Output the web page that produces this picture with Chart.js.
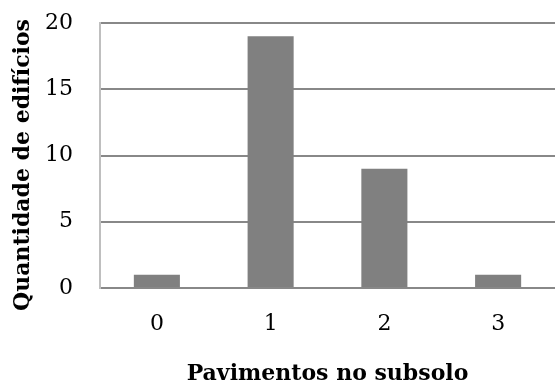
<!DOCTYPE html>
<html>
<head>
<meta charset="utf-8">
<script src="https://cdn.jsdelivr.net/npm/chart.js@4"></script>
<style>
  html, body { margin: 0; padding: 0; background: #fff; }
  #box { width: 555px; height: 387px; }
</style>
</head>
<body>
<div id="box"><canvas id="grafico" width="555" height="387"></canvas></div>
<script>
// dados
const pavimentos = ['0', '1', '2', '3'];
const edificios = [1, 19, 9, 1];
const ticksY = [0, 5, 10, 15, 20];
const tituloY = 'Quantidade de edifícios';
const tituloX = 'Pavimentos no subsolo';

// título do eixo Y centrado na altura do gráfico (como no Excel)
const tituloEixoY = {
    id: 'tituloEixoY',
    afterDraw(chart) {
        const c = chart.ctx;
        c.save();
        c.translate(23, 165);
        c.rotate(-Math.PI / 2);
        c.font = 'bold 22px "DejaVu Serif"';
        c.fillStyle = '#000';
        c.textAlign = 'center';
        c.textBaseline = 'middle';
        c.fillText(tituloY, 0, 0);
        c.restore();
    }
};

const ctx = document.getElementById('grafico').getContext('2d');
const grafico = new Chart(ctx, {
    type: 'bar',
    data: {
        labels: pavimentos,
        datasets: [{
            label: 'Edifícios',
            data: edificios,
            backgroundColor: '#808080',
            borderWidth: 0,
            barPercentage: 0.405,
            categoryPercentage: 1
        }]
    },
    options: {
        responsive: false,
        animation: false,
        layout: { padding: { top: 23, right: 0, left: 0, bottom: 0 } },
        plugins: {
            legend: { display: false },
            tooltip: { enabled: false }
        },
        scales: {
            x: {
                grid: { display: false, drawTicks: false },
                border: { color: '#888888', width: 2 },
                ticks: {
                    color: '#000',
                    padding: 23,
                    font: { family: 'DejaVu Serif', size: 22 }
                },
                title: {
                    display: true,
                    text: tituloX,
                    color: '#000',
                    padding: { top: 30, bottom: 0 },
                    font: { family: 'DejaVu Serif', size: 22, weight: 'bold' }
                },
                afterFit: s => { s.height = 99; }
            },
            y: {
                min: 0,
                max: 20,
                afterBuildTicks: s => { s.ticks = ticksY.map(v => ({ value: v })); },
                grid: { color: '#888888', lineWidth: 2, drawTicks: false },
                border: { color: '#bfbfbf', width: 2 },
                ticks: {
                    color: '#000',
                    padding: 27,
                    font: { family: 'DejaVu Serif', size: 22 }
                },
                afterFit: s => {
                    s.width = 100;
                    s.paddingTop = 0;
                    s.paddingBottom = 0;
                }
            }
        }
    },
    plugins: [tituloEixoY]
});
</script>
</body>
</html>
